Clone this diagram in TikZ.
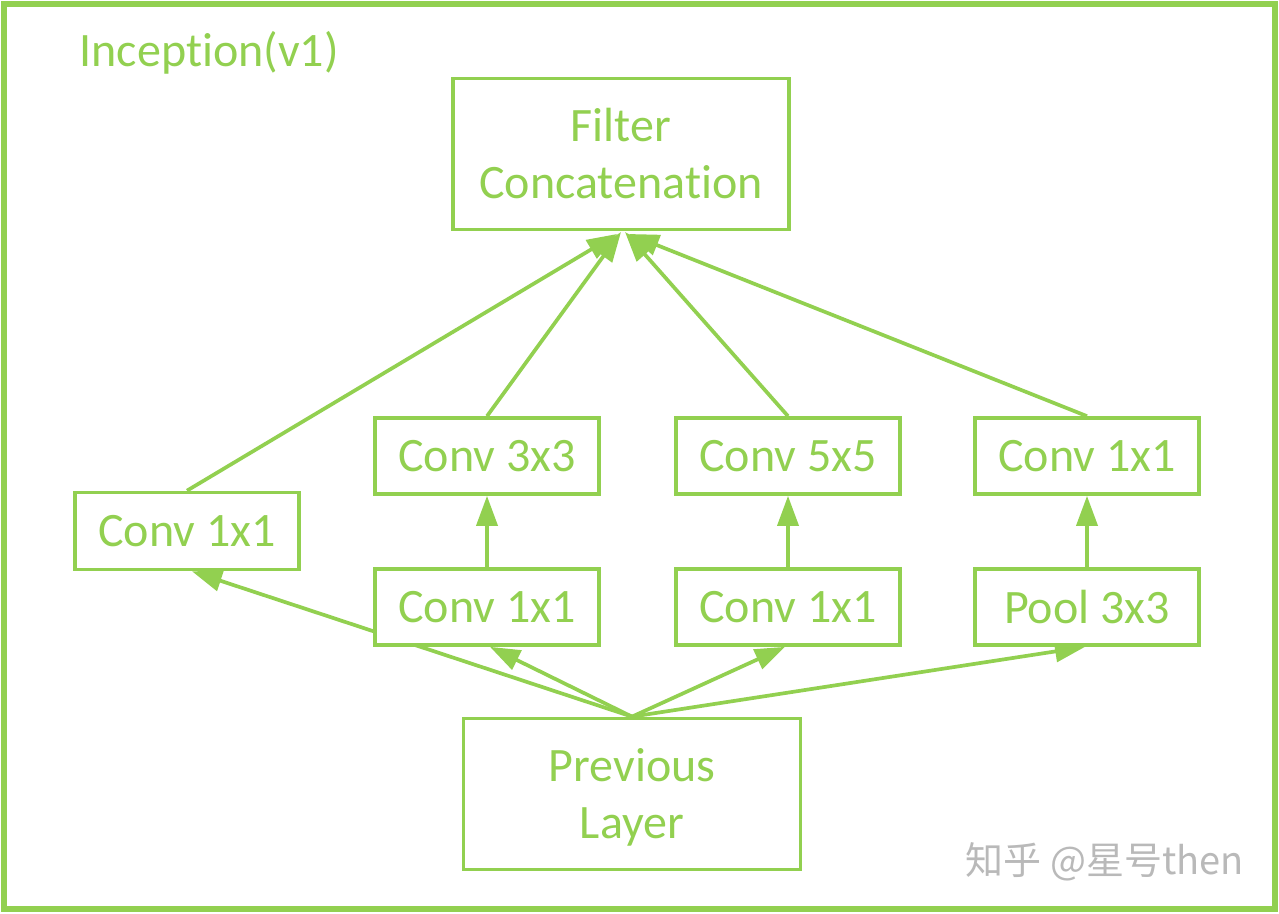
\documentclass[tikz,border=0pt]{standalone}
\usepackage{fontspec}
\setmainfont{Carlito}[Ligatures=NoCommon]
\newfontfamily\cjk{Noto Sans CJK SC}
\usetikzlibrary{arrows.meta}
\definecolor{lg}{HTML}{92D050}
\pgfdeclarelayer{back}
\pgfdeclarelayer{mid}
\pgfsetlayers{back,mid,main}
\begin{document}
\begin{tikzpicture}[x=1pt,y=-1pt,
  box/.style={draw=lg,line width=3.7pt,fill=white,text=lg,inner sep=0pt,
    font=\fontsize{48}{57}\selectfont,align=center},
  conn/.style={draw=lg,line width=3.7pt,-{Triangle[length=30pt,width=21pt]}}]
\useasboundingbox (0,0) rectangle (1279,913);
\begin{pgfonlayer}{back}
\fill[white] (0,0) rectangle (1279,913);
\end{pgfonlayer}
\draw[lg,line width=6.5pt] (4,4) rectangle (1275,909);
\node[text=lg,font=\fontsize{48}{57}\selectfont,anchor=west] (title) at (76,53) {Inception(v1)};

\coordinate (t1) at (617,234);
\coordinate (t2) at (621,232);
\coordinate (t3) at (625,232);
\coordinate (t4) at (629,234);

\node[box,minimum width=336pt,minimum height=151pt] (fc) at (621,154) {Filter\\Concatenation};
\node[box,minimum width=224pt,minimum height=77pt] (c1) at (187,531) {Conv 1x1};
\node[box,minimum width=224pt,minimum height=76pt] (c3) at (487,456) {Conv 3x3};
\node[box,minimum width=224pt,minimum height=76pt] (c5) at (788,456) {Conv 5x5};
\node[box,minimum width=224pt,minimum height=76pt] (c1b) at (1087,456) {Conv 1x1};
\node[box,minimum width=224pt,minimum height=76pt] (m1) at (487,607) {Conv 1x1};
\node[box,minimum width=224pt,minimum height=76pt] (m2) at (788,607) {Conv 1x1};
\node[box,minimum width=224pt,minimum height=76pt] (pool) at (1087,607) {Pool 3x3};
\node[box,minimum width=337pt,minimum height=151pt] (prevl) at (632,794) {\raisebox{-5pt}[\height][\depth]{\begin{tabular}{@{}c@{}}Previous\\Layer\end{tabular}}};

\begin{pgfonlayer}{mid}
\draw[conn] (c1.north) -- (t1);
\draw[conn] (c3.north) -- (t2);
\draw[conn] (c5.north) -- (t3);
\draw[conn] (c1b.north) -- (t4);
\draw[conn] (m1.north) -- (c3.south);
\draw[conn] (m2.north) -- (c5.south);
\draw[conn] (pool.north) -- (c1b.south);
\draw[conn] (prevl.north) -- ([xshift=5pt]c1.south);
\draw[conn] (prevl.north) -- ([xshift=3pt]m1.south);
\draw[conn] (prevl.north) -- ([xshift=-3pt]m2.south);
\draw[conn] (prevl.north) -- ([xshift=-2pt]pool.south);
\end{pgfonlayer}

\node[text=gray!55,font=\cjk\fontsize{38}{46}\selectfont] (wm) at (1105,862) {知乎 @星号then};
\end{tikzpicture}
\end{document}
